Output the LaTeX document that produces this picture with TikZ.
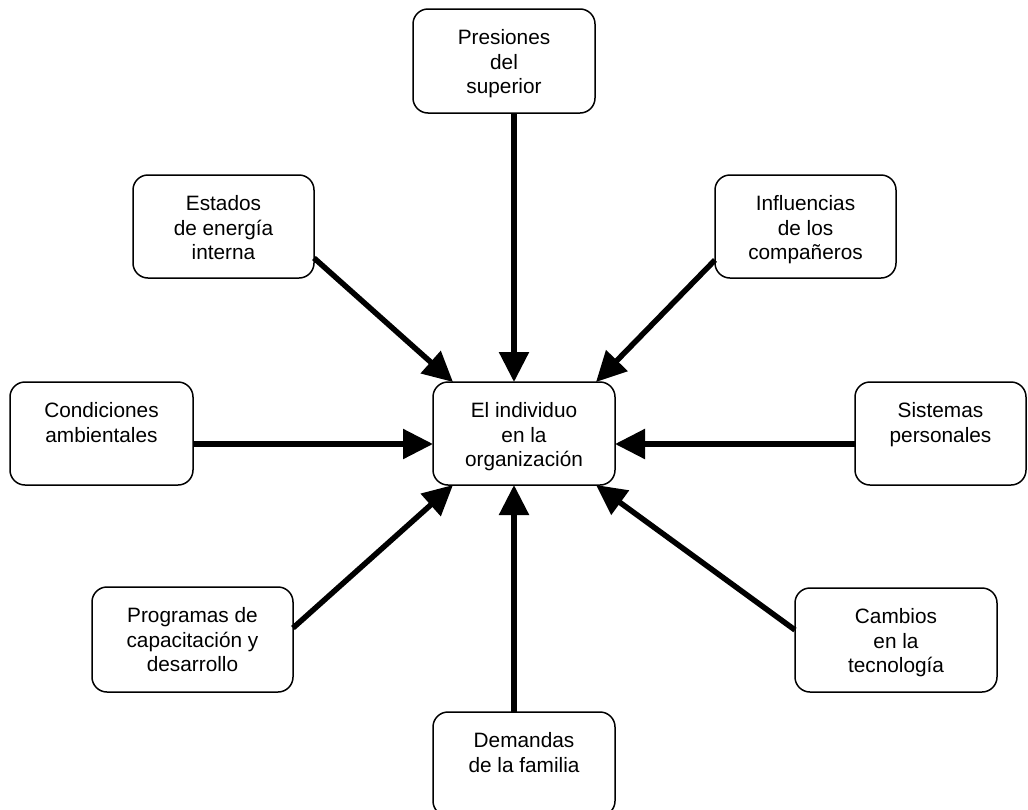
\documentclass[tikz,border=0pt]{standalone}
\usepackage{fontspec}
\setmainfont{Liberation Sans}
\usetikzlibrary{arrows.meta}
\tikzset{
  box/.style={draw=black, line width=1.5pt, rounded corners=15pt, inner sep=0pt, outer sep=0pt, fill=white},
  txt/.style={anchor=north, inner sep=0pt, align=center, font=\fontsize{20.8pt}{24.5pt}\selectfont, yshift=-20.5pt},
  arr/.style={line width=5.5pt, -{Triangle[length=30pt,width=29pt]}}
}
\begin{document}
\begin{tikzpicture}[x=1pt,y=-1pt]
\useasboundingbox (0,0) rectangle (1028,809);
\clip (0,0) rectangle (1028,809);
\fill[white] (0,0) rectangle (1028,809);
% boxes
\node[box, minimum width=182pt, minimum height=104pt] (pres) at (504,61) {};
\node[box, minimum width=181pt, minimum height=103pt] (est) at (223.5,226.5) {};
\node[box, minimum width=181pt, minimum height=103pt] (inf) at (805.5,226.5) {};
\node[box, minimum width=183pt, minimum height=103pt] (cond) at (101.5,433.5) {};
\node[box, minimum width=182pt, minimum height=103pt] (ind) at (524,433.5) {};
\node[box, minimum width=171pt, minimum height=103pt] (sis) at (940.5,433.5) {};
\node[box, minimum width=201pt, minimum height=105pt] (prog) at (192.5,639.5) {};
\node[box, minimum width=202pt, minimum height=104pt] (camb) at (896,640) {};
\node[box, minimum width=182pt, minimum height=104pt] (dem) at (524,764) {};
% texts
\node[txt] (tpres) at (pres.north) {Presiones\\del\\superior};
\node[txt] (test) at (est.north) {Estados\\de energía\\interna};
\node[txt] (tinf) at (inf.north) {Influencias\\de los\\compañeros};
\node[txt] (tcond) at (cond.north) {Condiciones\\ambientales};
\node[txt] (tind) at (ind.north) {El individuo\\en la\\organización};
\node[txt] (tsis) at (sis.north) {Sistemas\\personales};
\node[txt] (tprog) at (prog.north) {Programas de\\capacitación y\\desarrollo};
\node[txt] (tcamb) at (camb.north) {Cambios\\en la\\tecnología};
\node[txt] (tdem) at (dem.north) {Demandas\\de la familia};
% arrows
\draw[arr] ([xshift=10pt]pres.south) -- ([xshift=-10pt]ind.north);
\draw[arr] ([yshift=20pt]est.south east) -- ([xshift=20pt]ind.north west);
\draw[arr] ([yshift=18pt]inf.south west) -- ([xshift=-19pt]ind.north east);
\draw[arr] ([yshift=-10.5pt]cond.east) -- ([yshift=-10.5pt]ind.west);
\draw[arr] ([yshift=-10.5pt]sis.west) -- ([yshift=-10.5pt]ind.east);
\draw[arr] ([yshift=11.5pt]prog.east) -- ([xshift=20pt]ind.south west);
\draw[arr] ([yshift=10pt]camb.west) -- ([xshift=-19pt]ind.south east);
\draw[arr] ([xshift=-10pt]dem.north) -- ([xshift=-10pt]ind.south);
\end{tikzpicture}
\end{document}
